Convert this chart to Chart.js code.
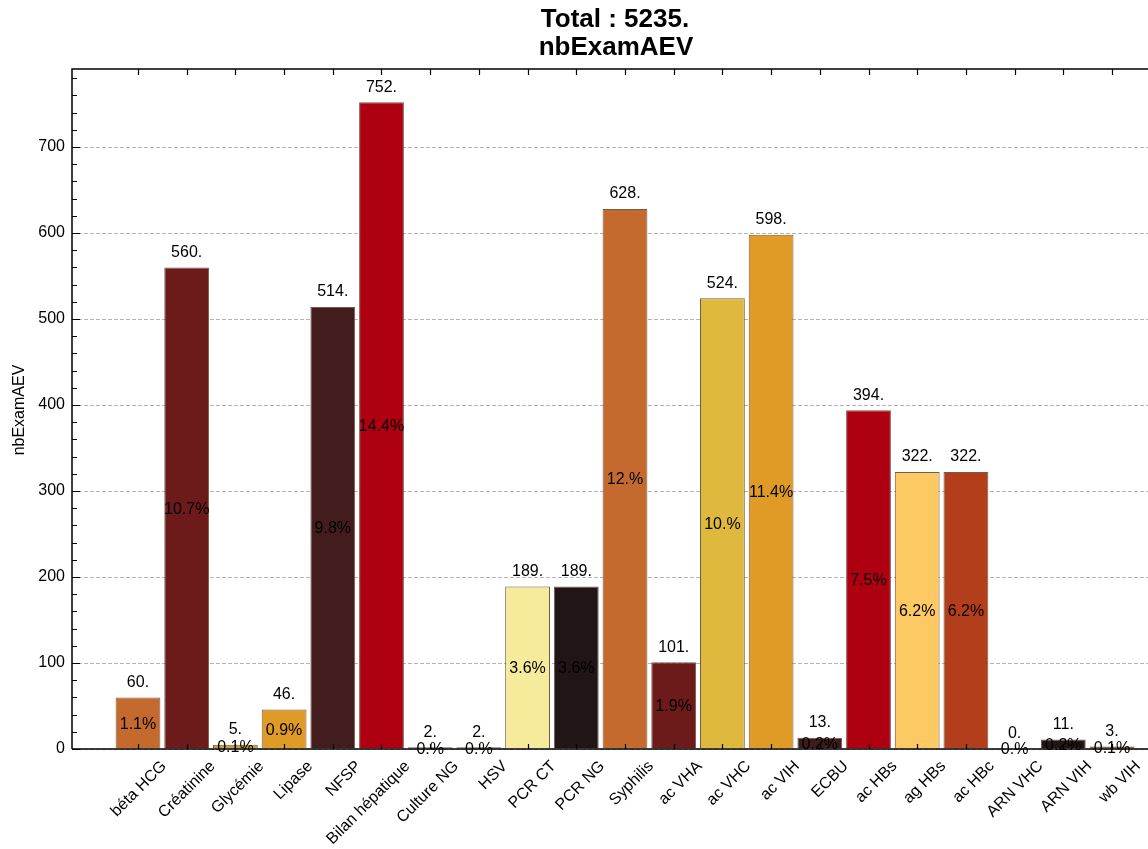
<!DOCTYPE html>
<html>
<head>
<meta charset="utf-8">
<title>nbExamAEV</title>
<script src="https://cdn.jsdelivr.net/npm/chart.js@4/dist/chart.umd.min.js"></script>
<style>
  html, body { margin: 0; padding: 0; background: #fff; overflow: hidden; }
  #wrap { width: 1184px; height: 849px; }
</style>
</head>
<body>
<div id="wrap"><canvas id="examChart" width="1184" height="849"></canvas></div>
<script>
/* -------------------------------------------------
   Data – exams per type
   ------------------------------------------------- */
const examNames = [
  'béta HCG', 'Créatinine', 'Glycémie', 'Lipase', 'NFSP', 'Bilan hépatique',
  'Culture NG', 'HSV', 'PCR CT', 'PCR NG', 'Syphilis', 'ac VHA', 'ac VHC',
  'ac VIH', 'ECBU', 'ac HBs', 'ag HBs', 'ac HBc', 'ARN VHC', 'ARN VIH', 'wb VIH'
];
const examCounts = [
  60, 560, 5, 46, 514, 752, 2, 2, 189, 189, 628, 101, 524,
  598, 13, 394, 322, 322, 0, 11, 3
];
const barColors = [
  '#c56a2f', '#6c1a1a', '#c2a23a', '#e09a26', '#431d1d', '#ae0010',
  '#7a4a2a', '#8a4a2a', '#f5eb9b', '#211516', '#c56a2f', '#6c1a1a', '#dfb93e',
  '#e09a26', '#3d1b1b', '#ae0010', '#fdc963', '#b23e1c', '#c56a2f', '#211516', '#5a2a20'
];
const yTicks = [0, 100, 200, 300, 400, 500, 600, 700];

const total = examCounts.reduce((a, b) => a + b, 0);
const FONT = '"Liberation Sans", Arial, sans-serif';

// Mathematica-style numbers: "60." and "12.%"
function numLabel(v) { return v + '.'; }
function pctLabel(v) {
  const p = Math.round(v / total * 1000) / 10;
  return (Number.isInteger(p) ? p + '.' : p.toFixed(1)) + '%';
}

/* -------------------------------------------------
   Plugin: frame, inward ticks, titles, bar labels
   ------------------------------------------------- */
const decorPlugin = {
  id: 'decor',
  afterDatasetsDraw(chart) {
    const { ctx, chartArea: a, scales: { x, y } } = chart;
    ctx.save();

    // bar labels
    const meta = chart.getDatasetMeta(0);
    ctx.fillStyle = '#000';
    ctx.textAlign = 'center';
    ctx.textBaseline = 'middle';
    ctx.font = '16px ' + FONT;
    meta.data.forEach((bar, i) => {
      const v = examCounts[i];
      ctx.fillText(numLabel(v), bar.x, bar.y - 15);
      ctx.fillText(pctLabel(v), bar.x, y.getPixelForValue(v / 2) + 1);
    });

    // frame
    ctx.strokeStyle = '#000';
    ctx.lineWidth = 1.5;
    ctx.beginPath();
    ctx.moveTo(a.left, a.bottom); ctx.lineTo(a.left, a.top); ctx.lineTo(a.right, a.top);
    ctx.moveTo(a.left, a.bottom); ctx.lineTo(a.right, a.bottom);
    ctx.stroke();

    // y ticks: major every 100, minor every 20
    ctx.lineWidth = 1.2;
    ctx.beginPath();
    for (let v = 0; v <= y.max; v += 20) {
      const py = Math.round(y.getPixelForValue(v)) + 0.5;
      const len = v % 100 === 0 ? 8 : 5;
      ctx.moveTo(a.left, py); ctx.lineTo(a.left + len, py);
    }
    // x ticks at each bar, bottom and top
    examNames.forEach((_, i) => {
      const px = Math.round(x.getPixelForValue(i)) + 0.5;
      ctx.moveTo(px, a.bottom); ctx.lineTo(px, a.bottom - 5);
      ctx.moveTo(px, a.top); ctx.lineTo(px, a.top + 6);
    });
    ctx.stroke();

    // titles
    ctx.font = 'bold 26px ' + FONT;
    ctx.fillText('Total : ' + total + '.', 615, 20);
    ctx.fillText('nbExamAEV', 616, 48);

    ctx.translate(20, 410);
    ctx.rotate(-Math.PI / 2);
    ctx.font = '16px ' + FONT;
    ctx.fillText('nbExamAEV', 0, 0);
    ctx.restore();
  }
};

/* -------------------------------------------------
   Chart
   ------------------------------------------------- */
const X_MIN = -1.355, X_MAX = 21.355;

new Chart(document.getElementById('examChart'), {
  type: 'bar',
  data: {
    datasets: [{
      data: examCounts.map((v, i) => ({ x: i, y: v })),
      backgroundColor: barColors,
      borderColor: 'rgba(80,50,25,0.8)',
      borderWidth: 1,
      barPercentage: 0.92,
      categoryPercentage: 1
    }]
  },
  plugins: [decorPlugin],
  options: {
    responsive: false,
    animation: false,
    devicePixelRatio: 1,
    layout: { padding: { top: 69, right: 6, left: 0, bottom: 0 } },
    plugins: { legend: { display: false }, tooltip: { enabled: false } },
    scales: {
      x: {
        type: 'linear',
        offset: false,
        min: X_MIN,
        max: X_MAX,
        afterBuildTicks: s => { s.ticks = examNames.map((_, i) => ({ value: i })); },
        afterFit: s => { s.height = 100; },
        grid: { display: false },
        border: { display: false },
        ticks: {
          autoSkip: false,
          minRotation: 45,
          maxRotation: 45,
          labelOffset: 26,
          padding: 0,
          color: '#000',
          font: { family: FONT, size: 16 },
          callback: v => examNames[v]
        }
      },
      y: {
        min: 0,
        max: 790.7,
        afterBuildTicks: s => { s.ticks = yTicks.map(v => ({ value: v })); },
        afterFit: s => { s.width = 72; },
        grid: { color: '#b5b5b5', lineWidth: 1, drawTicks: false },
        border: { display: false, dash: [4, 2] },
        ticks: {
          padding: 7,
          color: '#000',
          font: { family: FONT, size: 16 }
        }
      }
    }
  }
});
</script>
</body>
</html>
